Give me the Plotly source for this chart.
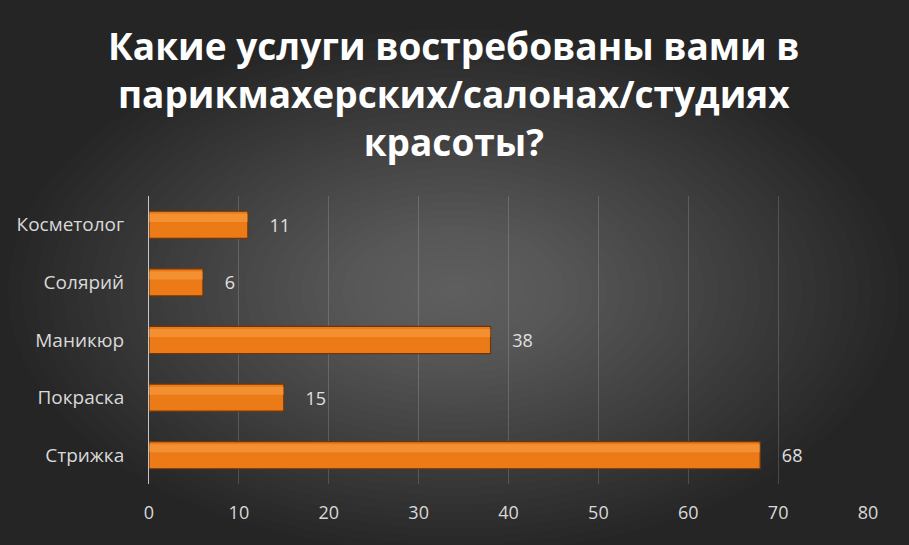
import plotly.graph_objects as go

# Data
services = ["Косметолог", "Солярий", "Маникюр", "Покраска", "Стрижка"]
counts = [11, 6, 38, 15, 68]
x_ticks = [0, 10, 20, 30, 40, 50, 60, 70, 80]

title_text = "Какие услуги востребованы вами в<br>парикмахерских/салонах/студиях<br>красоты?"

fig = go.Figure()

# main bar
fig.add_trace(go.Bar(
    y=services, x=counts, orientation="h", width=0.47,
    marker=dict(color="#EC7A17", line=dict(color="#6e360b", width=1.2)),
    text=counts, texttemplate="    %{x}", textposition="outside", cliponaxis=False,
    textfont=dict(family="Open Sans", size=18, color="#e0e0e0"),
    hoverinfo="skip", showlegend=False,
))
# highlight strip on the upper part of each bar (bevel look)
fig.add_trace(go.Bar(
    y=services, x=counts, orientation="h", width=0.14, offset=-0.19,
    marker=dict(color="rgba(255,185,100,0.35)", line=dict(width=0)),
    hoverinfo="skip", showlegend=False,
))

# radial gradient background made of stacked translucent ellipses,
# kept inside the figure area
shapes = []
n = 32
for i in range(n):
    f = 1 - i / n
    shapes.append(dict(
        type="circle", xref="paper", yref="paper", layer="below",
        x0=0.424 - 0.62 * f, x1=0.424 + 0.62 * f,
        y0=0.67 - 0.91 * f, y1=0.67 + 0.91 * f,
        fillcolor="rgba(255,255,255,0.01)", line=dict(width=0),
    ))

fig.update_layout(
    width=909, height=545,
    margin=dict(l=149, r=41, t=196, b=61),
    paper_bgcolor="#252525",
    plot_bgcolor="rgba(0,0,0,0)",
    barmode="overlay",
    shapes=shapes,
    annotations=[dict(
        text=title_text, xref="paper", yref="paper",
        x=0.424, y=1.617, xanchor="center", yanchor="top",
        showarrow=False, align="center",
        font=dict(family="Open Sans", size=37, color="#ffffff", weight="bold"),
    )],
    xaxis=dict(
        range=[0, 80], tickvals=x_ticks,
        showgrid=True, gridcolor="rgba(255,255,255,0.16)", gridwidth=1,
        zeroline=False, showline=False,
        tickfont=dict(family="Open Sans", size=18, color="#d9d9d9"),
        ticks="", ticklabelstandoff=16,
    ),
    yaxis=dict(
        autorange="reversed",
        showgrid=False, zeroline=False,
        showline=True, linecolor="rgba(235,235,235,0.8)", linewidth=1,
        tickfont=dict(family="Open Sans", size=19, color="#d9d9d9"),
        ticks="", ticklabelstandoff=20,
    ),
)

# drop the default page margin so the figure fills the window
fig.write_html(
    "out.html",
    config={"displayModeBar": False},
    post_script="document.body.style.margin='0';document.body.style.overflow='hidden';",
)
